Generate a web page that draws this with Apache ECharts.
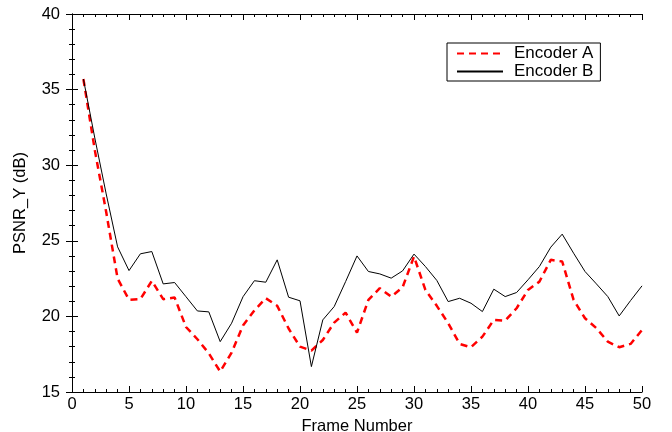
<!DOCTYPE html>
<html><head><meta charset="utf-8">
<script src="https://cdn.jsdelivr.net/npm/echarts@6/dist/echarts.min.js"></script>
<style>html,body{margin:0;padding:0;background:#fff}#c{width:672px;height:432px}</style>
</head><body><div id="c"></div>
<script>
const frames = Array.from({length: 50}, (_, i) => i + 1);
const encoderA = [35.7,31.0,26.9,22.5,21.1,21.14,22.35,21.14,21.25,19.3,
  18.49,17.56,16.35,17.6,19.4,20.4,21.2,20.7,19.2,18.0,
  17.74,18.44,19.59,20.25,18.93,21.09,21.87,21.3,21.93,23.96,
  21.75,20.7,19.55,18.18,17.96,18.66,19.77,19.72,20.54,21.75,
  22.3,23.74,23.63,21.09,19.88,19.22,18.33,17.96,18.18,19.1];
const encoderB = [35.7,31.8,28.1,24.6,23.03,24.14,24.29,22.15,22.24,21.3,
  20.36,20.3,18.33,19.55,21.3,22.36,22.26,23.74,21.27,21.03,
  16.68,19.77,20.65,22.3,24.0,22.97,22.81,22.53,23.01,24.12,
  23.3,22.38,20.98,21.2,20.87,20.32,21.8,21.31,21.58,22.42,
  23.3,24.58,25.44,24.18,22.97,22.15,21.31,20.03,21.05,22.02];
const xTicks = [0,5,10,15,20,25,30,35,40,45,50];
const yTicks = [15,20,25,30,35,40];

const font = '"Liberation Sans", Arial, sans-serif';
const tickStyle = {inside: true, length: 6, lineStyle: {color: '#000', width: 1}};
const minorStyle = {show: true, splitNumber: 5, length: 3, lineStyle: {color: '#000', width: 1}};
const lineSt = {lineStyle: {color: '#000', width: 1}};

const chart = echarts.init(document.getElementById('c'), null, {renderer: 'canvas'});
chart.setOption({
  animation: false,
  grid: {left: 72, right: 30, top: 14, bottom: 40, outerBoundsMode: 'none', containLabel: false},
  legend: {
    left: 447, top: 43, orient: 'vertical',
    borderColor: '#000', borderWidth: 1, padding: [2, 7, 1, 9],
    itemWidth: 46, itemHeight: 10, itemGap: 1,
    itemStyle: {opacity: 0},
    textStyle: {fontFamily: font, fontSize: 17, color: '#000', padding: [0, 0, 0, 6]},
    data: ['Encoder A', 'Encoder B']
  },
  xAxis: [{
    type: 'value', min: 0, max: 50, interval: 5,
    name: 'Frame Number', nameLocation: 'middle', nameGap: 25,
    nameTextStyle: {fontFamily: font, fontSize: 16.5, color: '#000'},
    axisLine: lineSt, axisTick: tickStyle, minorTick: minorStyle,
    axisLabel: {fontFamily: font, fontSize: 16.5, color: '#000', margin: 4},
    splitLine: {show: false}
  }, {
    type: 'value', position: 'top', min: 0, max: 50, interval: 5,
    axisLine: lineSt, axisTick: tickStyle, minorTick: minorStyle,
    axisLabel: {show: false}, splitLine: {show: false}
  }],
  yAxis: [{
    type: 'value', min: 15, max: 40, interval: 5,
    name: 'PSNR_Y (dB)', nameLocation: 'middle', nameGap: 43,
    nameTextStyle: {fontFamily: font, fontSize: 16.5, color: '#000'},
    axisLine: lineSt, axisTick: tickStyle, minorTick: minorStyle,
    axisLabel: {fontFamily: font, fontSize: 16.5, color: '#000', margin: 12},
    splitLine: {show: false}
  }, {
    type: 'value', position: 'right', min: 15, max: 40, interval: 5,
    axisLine: lineSt, axisTick: tickStyle, minorTick: minorStyle,
    axisLabel: {show: false}, splitLine: {show: false}
  }],
  series: [{
    name: 'Encoder A', type: 'line', symbol: 'none',
    data: frames.map((f, i) => [f, encoderA[i]]),
    itemStyle: {color: '#ff0000'},
    lineStyle: {color: '#ff0000', width: 2.5, type: [7, 5]}
  }, {
    name: 'Encoder B', type: 'line', symbol: 'none',
    data: frames.map((f, i) => [f, encoderB[i]]),
    itemStyle: {color: '#000'},
    lineStyle: {color: '#000', width: 1}
  }]
});
</script></body></html>
